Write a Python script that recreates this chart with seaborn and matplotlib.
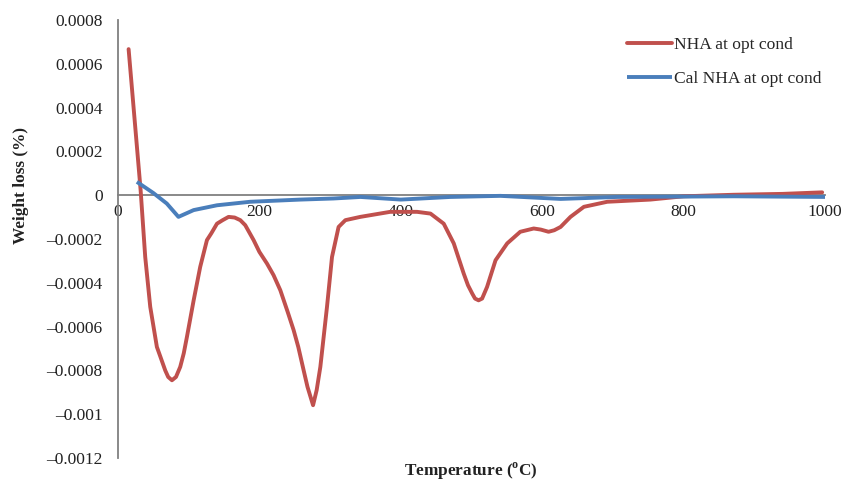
import matplotlib
matplotlib.use('Agg')
import matplotlib.pyplot as plt
import seaborn as sns
import pandas as pd
from matplotlib.ticker import FixedLocator, FixedFormatter

# data
nha_temp = [15, 32, 38.5, 45.6, 55, 60, 66.8, 71, 76.3, 82, 88, 93, 97.5, 107, 116.3, 125.8,
            132, 140, 148, 156.4, 165, 173, 180, 191.8, 200, 210.7, 220, 229.6, 240, 248.4,
            255, 262.6, 268, 275.9, 281, 286.2, 295.6, 302.7, 312, 321.6, 342.7, 385, 423,
            442, 460.7, 474.9, 489, 495, 501, 505, 510, 515, 522, 534, 550.5, 569, 588, 598,
            609, 617, 626, 640, 659, 692, 753, 800, 871, 940, 996]
nha_loss = [0.000667, 0.000023, -0.000282, -0.00051, -0.000693, -0.000738, -0.0008, -0.00083,
            -0.000845, -0.00083, -0.000784, -0.000722, -0.000647, -0.00048, -0.000327,
            -0.000205, -0.000174, -0.00013, -0.000114, -0.000099, -0.000102, -0.000114,
            -0.000137, -0.000205, -0.000259, -0.000312, -0.000365, -0.000434, -0.000533,
            -0.000616, -0.000693, -0.0008, -0.000875, -0.000959, -0.00089, -0.000784,
            -0.00051, -0.000282, -0.000145, -0.000114, -0.000099, -0.000076, -0.000076,
            -0.000084, -0.00013, -0.00022, -0.000358, -0.000411, -0.000449, -0.000472,
            -0.00048, -0.000472, -0.000419, -0.000297, -0.00022, -0.000167, -0.000152,
            -0.000157, -0.000167, -0.00016, -0.000145, -0.000099, -0.000053, -0.00003,
            -0.00002, -0.000005, 0.000002, 0.000006, 0.000013]

cal_temp = [26.7, 50, 69, 85.5, 107, 140, 187, 258, 305, 343, 400, 470, 541, 626, 706, 871, 1003]
cal_loss = [0.000061, 0.00001, -0.000038, -0.000099, -0.000068, -0.000046, -0.00003,
            -0.00002, -0.000015, -0.000008, -0.00002, -0.000008, -0.000003, -0.000017,
            -0.000008, -0.000005, -0.000008]

y_ticks = [0.0008, 0.0006, 0.0004, 0.0002, 0, -0.0002, -0.0004, -0.0006, -0.0008, -0.001, -0.0012]
y_tick_labels = ['0.0008', '0.0006', '0.0004', '0.0002', '0', '\u20130.0002', '\u20130.0004',
                 '\u20130.0006', '\u20130.0008', '\u20130.001', '\u20130.0012']
x_ticks = [0, 200, 400, 600, 800, 1000]

sns.set_theme(style='white')
plt.rcParams['font.family'] = ['Liberation Serif', 'DejaVu Serif']
plt.rcParams['mathtext.fontset'] = 'custom'
plt.rcParams['mathtext.rm'] = 'Liberation Serif:bold'
plt.rcParams['mathtext.bf'] = 'Liberation Serif:bold'

df_nha = pd.DataFrame({'Temperature': nha_temp, 'Loss': nha_loss})
df_cal = pd.DataFrame({'Temperature': cal_temp, 'Loss': cal_loss})

fig = plt.figure(figsize=(8.45, 4.82), dpi=100)
ax = fig.add_axes([118 / 845, 1 - 458 / 482, (825 - 118) / 845, (458 - 20) / 482])

sns.lineplot(data=df_nha, x='Temperature', y='Loss', sort=False, color='#C0504D',
             linewidth=2.8, label='NHA at opt cond', ax=ax,
             solid_joinstyle='round', solid_capstyle='round')
sns.lineplot(data=df_cal, x='Temperature', y='Loss', sort=False, color='#4A7EBB',
             linewidth=2.8, label='Cal NHA at opt cond', ax=ax,
             solid_joinstyle='round', solid_capstyle='butt')

ax.set_xlim(0, 1000)
ax.set_ylim(-0.0012, 0.0008)
ax.yaxis.set_major_locator(FixedLocator(y_ticks))
ax.yaxis.set_major_formatter(FixedFormatter(y_tick_labels))
ax.set_xticks(x_ticks)
ax.set_xticklabels([str(t) for t in x_ticks])

for s in ['top', 'right']:
    ax.spines[s].set_visible(False)
ax.spines['bottom'].set_position(('data', 0))
ax.spines['bottom'].set_color('#808080')
ax.spines['left'].set_color('#808080')
ax.spines['bottom'].set_linewidth(1.3)
ax.spines['left'].set_linewidth(1.3)
ax.spines['bottom'].set_zorder(0.5)
ax.tick_params(axis='both', length=0, labelsize=12.5, colors='#222222')
ax.tick_params(axis='y', pad=11)
ax.tick_params(axis='x', pad=6)

ax.set_xlabel('')
ax.set_ylabel('')
fig.text(471 / 845, 1 - 471 / 482, r'Temperature ($^{\rm o}$C)', ha='center', va='center',
         fontsize=12.4, fontweight='bold', color='#222222')
fig.text(21 / 845, 1 - 186 / 482, 'Weight loss (%)', ha='center', va='center', rotation=90,
         fontsize=12.4, fontweight='bold', color='#222222')

leg = ax.legend(loc='upper left', bbox_to_anchor=(620 / 845, 1 - 30 / 482),
                bbox_transform=fig.transFigure, frameon=False, fontsize=12.6,
                handlelength=2.6, handletextpad=0.1, labelspacing=1.0, borderaxespad=0)

fig.savefig('out.png', dpi=100)
